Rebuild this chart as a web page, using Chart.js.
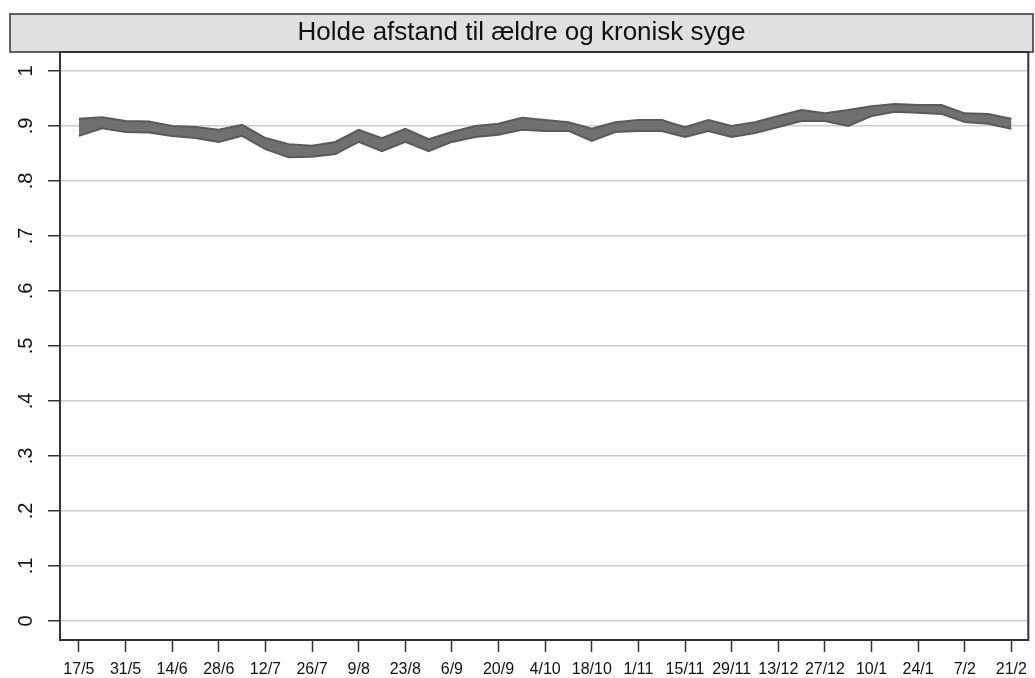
<!DOCTYPE html>
<html>
<head>
<meta charset="utf-8">
<script src="https://cdn.jsdelivr.net/npm/chart.js@4/dist/chart.umd.min.js"></script>
<style>
  html, body { margin: 0; padding: 0; background: #fff; }
  canvas { display: block; }
</style>
</head>
<body>
<canvas id="lineChart" width="1035" height="678"></canvas>
<script>
// weekly survey rounds
const weeks = ['17/5','24/5','31/5','7/6','14/6','21/6','28/6','5/7','12/7','19/7','26/7',
               '2/8','9/8','16/8','23/8','30/8','6/9','13/9','20/9','27/9','4/10',
               '11/10','18/10','25/10','1/11','8/11','15/11','22/11','29/11','6/12','13/12',
               '20/12','27/12','3/1','10/1','17/1','24/1','31/1','7/2','14/2','21/2']

// share keeping distance (estimate + confidence band)
const shareMid = [0.897,0.906,0.899,0.898,0.891,0.888,0.882,0.892,0.868,0.855,0.854,
                  0.860,0.882,0.866,0.883,0.865,0.880,0.890,0.894,0.904,0.901,
                  0.899,0.884,0.898,0.901,0.901,0.889,0.901,0.890,0.897,0.908,
                  0.919,0.916,0.915,0.927,0.933,0.931,0.930,0.915,0.913,0.904]
const ciUpper = [0.913,0.916,0.909,0.908,0.900,0.898,0.893,0.902,0.878,0.867,0.864,
                 0.871,0.893,0.878,0.895,0.876,0.889,0.900,0.904,0.915,0.911,
                 0.907,0.895,0.907,0.911,0.911,0.898,0.911,0.900,0.907,0.918,
                 0.929,0.923,0.929,0.936,0.940,0.938,0.938,0.923,0.922,0.913]
const ciLower = [0.882,0.896,0.889,0.888,0.882,0.878,0.871,0.882,0.858,0.843,0.844,
                 0.849,0.871,0.854,0.871,0.854,0.871,0.880,0.884,0.893,0.891,
                 0.891,0.873,0.889,0.891,0.891,0.880,0.891,0.880,0.887,0.898,
                 0.909,0.909,0.900,0.918,0.926,0.924,0.922,0.907,0.904,0.895]

const yTicks = [0,0.1,0.2,0.3,0.4,0.5,0.6,0.7,0.8,0.9,1]

const toPoints = arr => arr.map((v, i) => ({x: i, y: v}))

// grey title strip + frame round the plot
const frames = {
    id: 'frames',
    beforeDraw(chart){
        const c = chart.ctx, t = chart.titleBlock
        c.save()
        c.fillStyle = '#e0e0e0'
        c.fillRect(t.left, t.top, t.width, t.height)
        c.strokeStyle = '#333'
        c.lineWidth = 1.5
        c.strokeRect(t.left, t.top, t.width, t.height)
        c.restore()
    },
    afterDraw(chart){
        const c = chart.ctx, a = chart.chartArea
        c.save()
        c.strokeStyle = '#333'
        c.lineWidth = 2
        c.strokeRect(a.left, a.top, a.right - a.left, a.bottom - a.top)
        c.restore()
    }
}

const ctx = document.getElementById('lineChart')

new Chart(ctx, {
    type: 'line',
    data: {
        datasets: [
            {
                label: 'lower',
                data: toPoints(ciLower),
                borderColor: '#5a5a5a',
                borderWidth: 2,
                pointRadius: 0,
                fill: false
            },
            {
                label: 'upper',
                data: toPoints(ciUpper),
                borderColor: '#5a5a5a',
                borderWidth: 2,
                pointRadius: 0,
                backgroundColor: '#707070',
                fill: '-1'
            },
            {
                label: 'mid',
                data: toPoints(shareMid),
                borderColor: '#808080',
                borderWidth: 2,
                pointRadius: 0,
                fill: false
            }
        ]
    },
    options: {
        responsive: false,
        animation: false,
        layout: { padding: { left: 10, right: 2, top: 14, bottom: 0 } },
        plugins: {
            legend: { display: false },
            tooltip: { enabled: false },
            title: {
                display: true,
                text: 'Holde afstand til ældre og kronisk syge',
                color: '#111',
                font: { family: 'Liberation Sans', size: 26, weight: 'normal' },
                padding: { top: 3.4, bottom: 3.4 }
            }
        },
        scales: {
            x: {
                type: 'linear',
                min: -0.811,
                max: 40.726,
                afterBuildTicks: s => { s.ticks = weeks.map((w, i) => ({value: i})).filter(t => t.value % 2 === 0) },
                afterFit: s => { s.height = 38 },
                ticks: {
                    autoSkip: false,
                    maxRotation: 0,
                    padding: 8,
                    color: '#111',
                    font: { family: 'Liberation Sans', size: 16 },
                    callback: v => weeks[v]
                },
                grid: { drawOnChartArea: false, tickLength: 12, tickColor: '#333', tickWidth: 1.5 },
                border: { display: false }
            },
            y: {
                min: -0.0345,
                max: 1.0345,
                afterBuildTicks: s => { s.ticks = yTicks.map(v => ({value: v})) },
                afterFit: s => { s.width = 50 },
                ticks: {
                    minRotation: 90,
                    maxRotation: 90,
                    crossAlign: 'center',
                    padding: 13,
                    color: '#111',
                    font: { family: 'Liberation Sans', size: 20 },
                    callback: v => v === 0 ? '0' : v === 1 ? '1' : '.' + Math.round(v * 10)
                },
                grid: { color: '#cdcdcd', lineWidth: 1.5, tickLength: 12, tickColor: '#333', tickWidth: 1.5 },
                border: { display: false }
            }
        }
    },
    plugins: [frames]
})
</script>
</body>
</html>
